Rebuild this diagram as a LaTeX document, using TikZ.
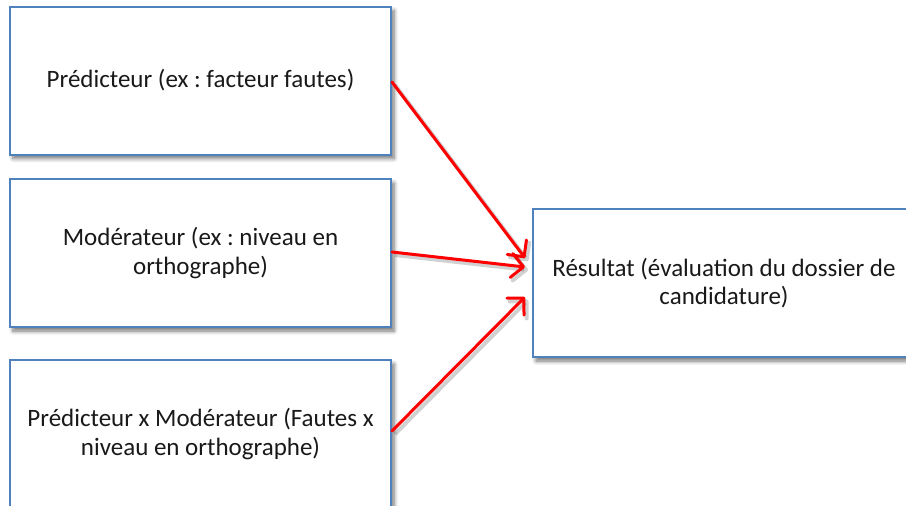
\documentclass[tikz,border=0pt]{standalone}
\usepackage{fontspec}
\setmainfont{Carlito}
\frenchspacing
\usetikzlibrary{arrows.meta,shadows.blur}
\definecolor{boxblue}{RGB}{79,129,189}
\definecolor{arrred}{RGB}{255,0,0}
\tikzset{
  box/.style={draw=boxblue, line width=2pt, fill=white, rectangle, align=center,
    font=\fontsize{25}{28.5}\selectfont, text=black!90, inner sep=0pt,
    blur shadow={shadow xshift=3pt, shadow yshift=-4pt, shadow blur steps=6, shadow opacity=55, shadow blur radius=4pt}},
  arr/.style={draw=arrred, line width=3pt, line cap=round,
    -{Straight Barb[length=12pt,width=24pt,round]},
    preaction={draw=black, opacity=0.18, line width=4pt, transform canvas={xshift=3pt,yshift=-3pt}}}
}
\begin{document}
\begin{tikzpicture}[x=1pt,y=-1pt]
\useasboundingbox (0,0) rectangle (906,506);
\clip (0,0) rectangle (906,506);
\node[box, minimum width=381pt, minimum height=148pt] (p) at (200.5,80.5) {Prédicteur (ex : facteur fautes)};
\node[box, minimum width=381pt, minimum height=148pt] (m) at (200.5,253) {Modérateur (ex : niveau en\\orthographe)};
\node[box, minimum width=381pt, minimum height=148pt] (pm) at (200.5,434) {Prédicteur x Modérateur (Fautes x\\niveau en orthographe)};
\node[box, minimum width=382pt, minimum height=148pt] (r) at (724,283) {Résultat (évaluation du dossier de\\candidature)};
\coordinate (t1) at (525,258);
\coordinate (t2) at (525,267);
\coordinate (t3) at (525,297);
\draw[arr] (p.east |- 0,82) -- (t1);
\draw[arr] (m.east |- 0,252) -- (t2);
\draw[arr] (pm.east |- 0,431) -- (t3);
\end{tikzpicture}
\end{document}
